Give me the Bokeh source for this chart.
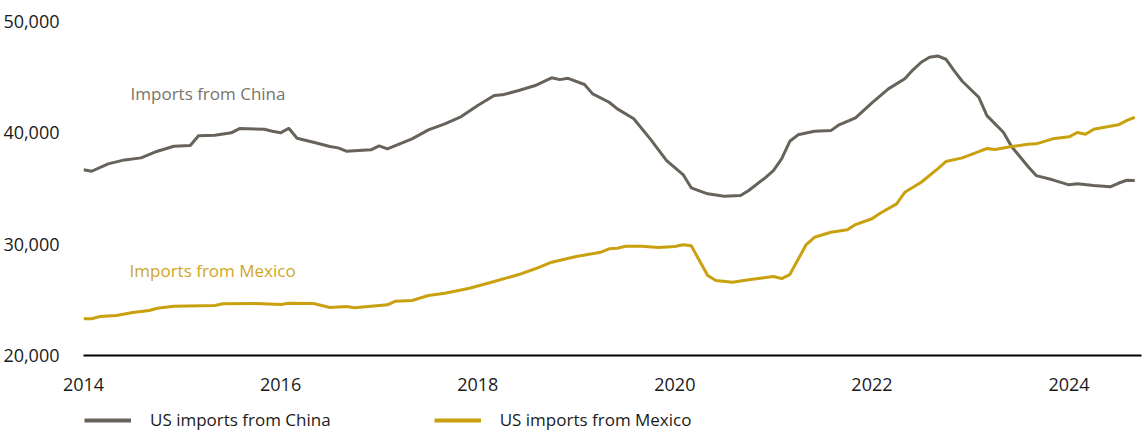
from bokeh.plotting import figure
from bokeh.layouts import column
from bokeh.models import (Range1d, FixedTicker, NumeralTickFormatter, Legend,
                          LegendItem, Label, ColumnDataSource)
from bokeh.embed import file_html
from bokeh.resources import INLINE

# ---- data (USD m, monthly) ----
china_months = ["2014-01", "2014-02", "2014-04", "2014-06", "2014-08", "2014-10", "2014-12",
                "2015-02", "2015-03", "2015-05", "2015-07", "2015-08", "2015-11", "2015-12",
                "2016-01", "2016-02", "2016-03", "2016-05", "2016-07", "2016-08", "2016-09",
                "2016-12", "2017-01", "2017-02", "2017-05", "2017-07", "2017-09", "2017-11",
                "2018-01", "2018-03", "2018-04", "2018-06", "2018-08", "2018-10", "2018-11",
                "2018-12", "2019-02", "2019-03", "2019-05", "2019-06", "2019-08", "2019-10",
                "2019-12", "2020-02", "2020-03", "2020-05", "2020-07", "2020-09", "2020-10",
                "2020-12", "2021-01", "2021-02", "2021-03", "2021-04", "2021-06", "2021-08",
                "2021-09", "2021-11", "2022-01", "2022-03", "2022-05", "2022-06", "2022-07",
                "2022-08", "2022-09", "2022-10", "2022-11", "2022-12", "2023-02", "2023-03",
                "2023-05", "2023-06", "2023-08", "2023-09", "2023-11", "2024-01", "2024-02",
                "2024-04", "2024-06", "2024-07", "2024-08", "2024-09"]
china_values = [36680, 36550, 37215, 37570, 37750, 38350, 38800,
                38860, 39730, 39780, 40000, 40385, 40320, 40140,
                40000, 40410, 39510, 39150, 38770, 38650, 38350,
                38470, 38830, 38560, 39460, 40270, 40810, 41460,
                42450, 43350, 43410, 43800, 44250, 44940, 44780,
                44900, 44340, 43500, 42750, 42150, 41260, 39460,
                37510, 36250, 35060, 34520, 34310, 34370, 34820,
                35960, 36610, 37660, 39240, 39820, 40140, 40200,
                40720, 41350, 42700, 43950, 44850, 45660, 46340,
                46790, 46910, 46610, 45590, 44630, 43200, 41550,
                40050, 38770, 36970, 36160, 35780, 35330, 35420,
                35270, 35150, 35470, 35740, 35720]

mexico_months = ["2014-01", "2014-02", "2014-03", "2014-05", "2014-07", "2014-09", "2014-10",
                 "2014-12", "2015-05", "2015-06", "2015-10", "2016-01", "2016-02", "2016-05",
                 "2016-07", "2016-09", "2016-10", "2017-02", "2017-03", "2017-05", "2017-07",
                 "2017-09", "2017-12", "2018-03", "2018-06", "2018-08", "2018-10", "2019-01",
                 "2019-04", "2019-05", "2019-06", "2019-07", "2019-09", "2019-11", "2020-01",
                 "2020-02", "2020-03", "2020-05", "2020-06", "2020-08", "2020-10", "2021-01",
                 "2021-02", "2021-03", "2021-05", "2021-06", "2021-08", "2021-10", "2021-11",
                 "2022-01", "2022-02", "2022-04", "2022-05", "2022-07", "2022-09", "2022-10",
                 "2022-12", "2023-02", "2023-03", "2023-04", "2023-06", "2023-08", "2023-09",
                 "2023-11", "2024-01", "2024-02", "2024-03", "2024-04", "2024-06", "2024-07",
                 "2024-08", "2024-09"]
mexico_values = [23300, 23300, 23500, 23590, 23860, 24040, 24250,
                 24430, 24490, 24640, 24670, 24580, 24700, 24670,
                 24310, 24400, 24280, 24550, 24880, 24940, 25390,
                 25590, 26040, 26650, 27270, 27790, 28380, 28890,
                 29280, 29580, 29640, 29820, 29820, 29700, 29790,
                 29940, 29850, 27180, 26740, 26580, 26800, 27090,
                 26910, 27270, 29970, 30620, 31070, 31290, 31760,
                 32280, 32780, 33620, 34660, 35560, 36770, 37420,
                 37750, 38320, 38590, 38500, 38770, 38970, 39010,
                 39460, 39640, 40030, 39870, 40320, 40590, 40720,
                 41100, 41400]

x_ticks = [2014, 2016, 2018, 2020, 2022, 2024]
y_ticks = [20000, 30000, 40000, 50000]
series_names = ["US imports from China", "US imports from Mexico"]
label_china = "Imports from China"
label_mexico = "Imports from Mexico"

CHINA = "#67635a"
MEXICO = "#c9a10f"
FONT = "Open Sans"


def to_year(months):
    return [int(m[:4]) + (int(m[5:7]) - 1) / 12 for m in months]


src_c = ColumnDataSource(dict(x=to_year(china_months), y=china_values))
src_m = ColumnDataSource(dict(x=to_year(mexico_months), y=mexico_values))

# ---- main chart ----
p = figure(width=1146, height=400, output_backend="svg", toolbar_location=None,
           x_range=Range1d(2014, 2024.735), y_range=Range1d(20000, 50000),
           min_border_left=82, min_border_right=5, min_border_top=21,
           min_border_bottom=45)
p.outline_line_color = None
p.background_fill_color = "white"
p.border_fill_color = "white"
p.grid.visible = False

p.line("x", "y", source=src_c, line_color=CHINA, line_width=3)
p.line("x", "y", source=src_m, line_color=MEXICO, line_width=3)

p.xaxis.ticker = FixedTicker(ticks=x_ticks)
p.xaxis.major_label_text_font = FONT
p.xaxis.major_label_text_font_size = "18px"
p.xaxis.major_label_text_color = "#1a1a1a"
p.xaxis.axis_line_color = "black"
p.xaxis.axis_line_width = 2
p.xaxis.major_tick_line_color = None
p.xaxis.minor_tick_line_color = None
p.xaxis.major_label_standoff = 16

p.yaxis.ticker = FixedTicker(ticks=y_ticks)
p.yaxis.formatter = NumeralTickFormatter(format="0,0")
p.yaxis.major_label_text_font = FONT
p.yaxis.major_label_text_font_size = "18px"
p.yaxis.major_label_text_color = "#1a1a1a"
p.yaxis.axis_line_color = None
p.yaxis.major_tick_line_color = None
p.yaxis.minor_tick_line_color = None
p.yaxis.major_label_standoff = 18

p.add_layout(Label(x=2014.477, y=43550, text=label_china, text_font=FONT,
                   text_font_size="17px", text_color="#78746a", text_baseline="middle"))
p.add_layout(Label(x=2014.467, y=27600, text=label_mexico, text_font=FONT,
                   text_font_size="17px", text_color="#cfa626", text_baseline="middle"))

# ---- legend strip (same series, drawn off-range so only the legend shows) ----
lg = figure(width=1146, height=31, output_backend="svg", toolbar_location=None,
            x_axis_type=None, y_axis_type=None,
            x_range=Range1d(0, 1), y_range=Range1d(0, 1),
            min_border_left=0, min_border_right=0, min_border_top=0,
            min_border_bottom=0)
lg.outline_line_color = None
lg.grid.visible = False
kc = lg.line("x", "y", source=src_c, line_color=CHINA, line_width=4)
km = lg.line("x", "y", source=src_m, line_color=MEXICO, line_width=4)

legend = Legend(items=[LegendItem(label=series_names[0], renderers=[kc]),
                       LegendItem(label=series_names[1], renderers=[km])],
                orientation="horizontal", location=(1, 0),
                label_text_font=FONT, label_text_font_size="17px",
                label_text_color="#1a1a1a", glyph_width=47, glyph_height=18,
                label_height=18, label_standoff=19, spacing=103, padding=0,
                margin=0, border_line_color=None, background_fill_alpha=0)
lg.add_layout(legend, "center")

layout = column(p, lg, spacing=0)
open("out.html", "w").write(file_html(layout, INLINE))
